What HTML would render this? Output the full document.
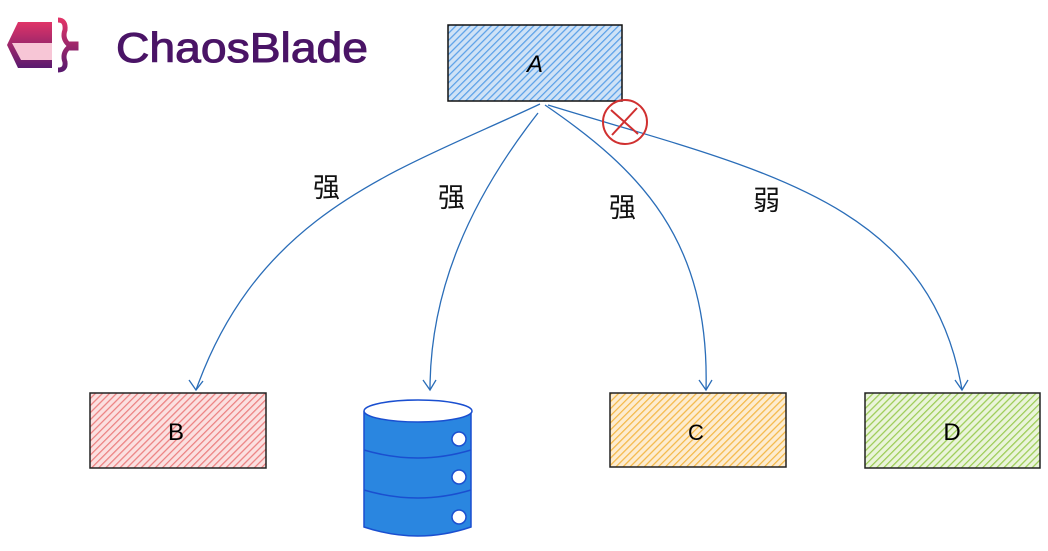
<!DOCTYPE html>
<html><head><meta charset="utf-8"><style>
body{margin:0;background:#fff;width:1048px;height:546px;overflow:hidden}
</style></head><body>
<svg width="1048" height="546" viewBox="0 0 1048 546" xmlns="http://www.w3.org/2000/svg">
<defs>
<pattern id="hb" width="5" height="5" patternUnits="userSpaceOnUse" patternTransform="rotate(45)"><rect width="5" height="5" fill="#cfe2f6"/><line x1="0" y1="0" x2="0" y2="5" stroke="#5aa0e8" stroke-width="2.5"/></pattern>
<pattern id="hr" width="5" height="5" patternUnits="userSpaceOnUse" patternTransform="rotate(45)"><rect width="5" height="5" fill="#fbe0e0"/><line x1="0" y1="0" x2="0" y2="5" stroke="#ec8080" stroke-width="2.5"/></pattern>
<pattern id="ho" width="5" height="5" patternUnits="userSpaceOnUse" patternTransform="rotate(45)"><rect width="5" height="5" fill="#fdecd0"/><line x1="0" y1="0" x2="0" y2="5" stroke="#f4b847" stroke-width="2.5"/></pattern>
<pattern id="hg" width="5" height="5" patternUnits="userSpaceOnUse" patternTransform="rotate(45)"><rect width="5" height="5" fill="#eaf4da"/><line x1="0" y1="0" x2="0" y2="5" stroke="#9ccc55" stroke-width="2.5"/></pattern>
<linearGradient id="lg" x1="0" y1="0" x2="0" y2="1"><stop offset="0" stop-color="#e03468"/><stop offset="1" stop-color="#5a1a6e"/></linearGradient>
</defs>
<!-- logo -->
<path d="M18 22 L52 22 L52 68 L18 68 L7 45 Z" fill="url(#lg)"/>
<path d="M12 43 L52 43 L52 60 L21 60 Z" fill="#f7c6d6"/>
<path d="M58 20 q8 0 7 10 q-3 8 3 14 h8 v4 h-8 q-6 6 -3 14 q1 8 -7 8" fill="none" stroke="url(#lg)" stroke-width="5"/>
<text x="116" y="62" font-family="Liberation Sans, sans-serif" font-size="42" fill="#4a1466" stroke="#4a1466" stroke-width="1" textLength="252" lengthAdjust="spacingAndGlyphs">ChaosBlade</text>
<!-- boxes -->
<rect x="448" y="25" width="174" height="76" fill="url(#hb)" stroke="#111" stroke-width="1.5"/>
<text x="535" y="72" font-family="Liberation Sans, sans-serif" font-size="24" text-anchor="middle" font-style="italic">A</text>
<rect x="90" y="393" width="176" height="75" fill="url(#hr)" stroke="#222" stroke-width="1.5"/>
<text x="176" y="440" font-family="Liberation Sans, sans-serif" font-size="24" text-anchor="middle">B</text>
<rect x="610" y="393" width="176" height="74" fill="url(#ho)" stroke="#222" stroke-width="1.5"/>
<text x="696" y="440" font-family="Liberation Sans, sans-serif" font-size="22" text-anchor="middle">C</text>
<rect x="865" y="393" width="175" height="75" fill="url(#hg)" stroke="#222" stroke-width="1.5"/>
<text x="952" y="440" font-family="Liberation Sans, sans-serif" font-size="24" text-anchor="middle">D</text>
<!-- database -->
<g stroke="#1a4fd0" stroke-width="1.5">
<path d="M364 412 L364 527 Q418 545 471 527 L471 412 Z" fill="#2a86e0"/>
<ellipse cx="418" cy="411" rx="54" ry="11" fill="#fff"/>
<path d="M364 450 Q418 466 471 450 M364 490 Q418 506 471 490" fill="none"/>
<circle cx="459" cy="439" r="7" fill="#fff"/>
<circle cx="459" cy="477" r="7" fill="#fff"/>
<circle cx="459" cy="517" r="7" fill="#fff"/>
</g>
<!-- connectors -->
<g fill="none" stroke="#2a6db8" stroke-width="1.3">
<path d="M540 104 C400 170 260 210 196 390"/>
<path d="M538 113 C470 200 430 290 430 390"/>
<path d="M545 105 C640 170 710 240 706 390"/>
<path d="M548 105 C760 170 930 200 962 390"/>
<path d="M189 380 L196 390 L203 381"/>
<path d="M423 380 L430 390 L436 380"/>
<path d="M699 380 L706 390 L712 380"/>
<path d="M955 380 L962 390 L968 380"/>
</g>
<!-- red x -->
<g stroke="#d03030" stroke-width="2" fill="none">
<circle cx="625" cy="122" r="22"/>
<path d="M611 110 L638 134 M637 108 L612 135"/>
</g>
<g font-family="Liberation Sans, 'Noto Sans CJK SC', sans-serif" font-size="27" fill="#111">
<text x="313" y="197">强</text>
<text x="438" y="207">强</text>
<text x="609" y="217">强</text>
<text x="753" y="210">弱</text>
</g>
</svg>
</body></html>
